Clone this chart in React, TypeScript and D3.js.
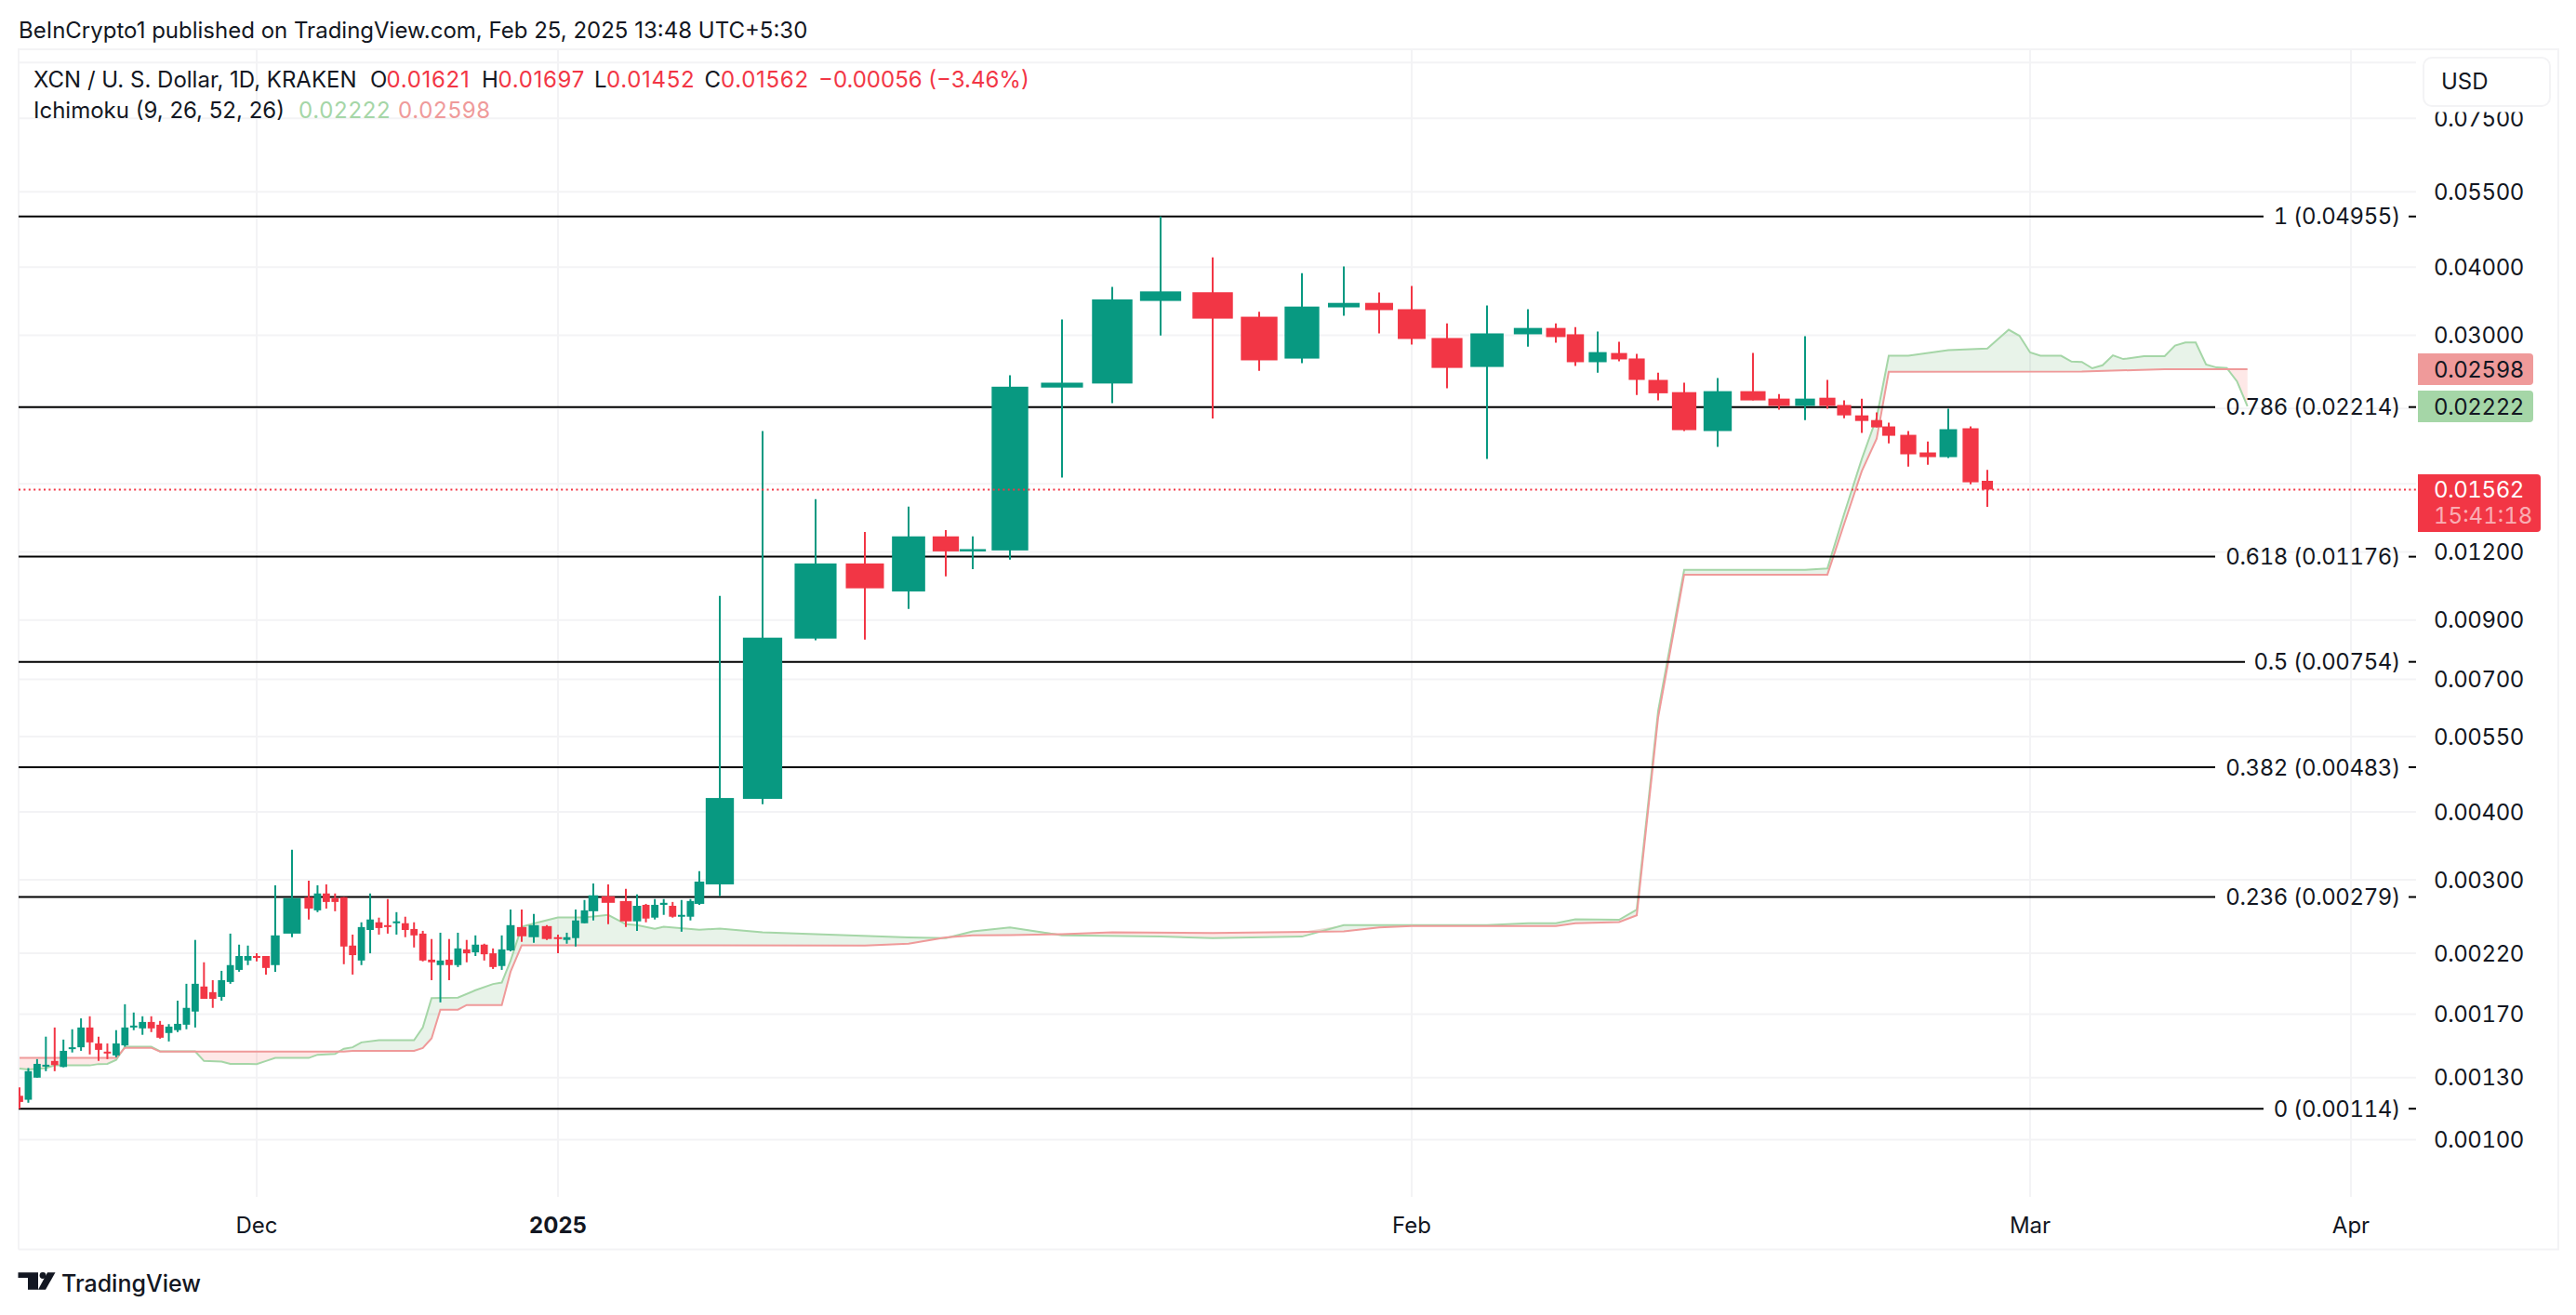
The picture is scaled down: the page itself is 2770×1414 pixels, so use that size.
import * as d3 from 'd3';

const WIDTH = 2770;
const HEIGHT = 1414;

// Daily XCN/USD candles, first bar is 2024-11-04
const FIRST_DAY = new Date(Date.UTC(2024, 10, 4));

const opens = [
  0.001204, 0.001184, 0.0013, 0.001362, 0.001395, 0.00136, 0.001467, 0.001478, 0.001607, 0.001502,
  0.001451, 0.001428, 0.00149, 0.001607, 0.001601, 0.001645, 0.001626, 0.00157, 0.001589, 0.001626,
  0.001719, 0.001911, 0.001866, 0.001829, 0.001948, 0.00205, 0.002133, 0.002174, 0.002174, 0.002092,
  0.00239, 0.002788, 0.002637, 0.002832, 0.002777, 0.002788, 0.002272, 0.002133, 0.002427, 0.002507,
  0.002477, 0.002497, 0.002497, 0.002437, 0.00239, 0.002141, 0.002092, 0.002141, 0.002092, 0.002236,
  0.002208, 0.002281, 0.002199, 0.002084, 0.002226, 0.002457, 0.002354, 0.002467, 0.002354, 0.002327,
  0.002345, 0.002497, 0.002627, 0.002799, 0.002743, 0.002517, 0.002699, 0.002557, 0.002699, 0.002688,
  0.002567, 0.002567, 0.00271, 0.002943, 0.004225, 0.008319, 0.01143, 0.010154, 0.012816, 0.012027,
  0.012076, 0.024042, 0.024456, 0.034673, 0.035971, 0.032435, 0.027175, 0.033741, 0.034387, 0.033482,
  0.029643, 0.02623, 0.030112, 0.030932, 0.030112, 0.026761, 0.027823, 0.027186, 0.024832, 0.02358,
  0.020003, 0.023677, 0.022943, 0.022245, 0.02303, 0.022332, 0.021373, 0.020953, 0.020398, 0.019687,
  0.018273, 0.017916, 0.02024, 0.01621,
];
const highs = [
  0.001248, 0.001354, 0.001406, 0.001546, 0.001607, 0.001527, 0.001595, 0.00167, 0.001685, 0.001546,
  0.001502, 0.001589, 0.001773, 0.001712, 0.001685, 0.001685, 0.001652, 0.00163, 0.0018, 0.001933,
  0.002327, 0.002117, 0.001963, 0.002042, 0.00239, 0.002281, 0.002272, 0.002199, 0.002174, 0.002932,
  0.003407, 0.00299, 0.002932, 0.002943, 0.002832, 0.002788, 0.00238, 0.002507, 0.002832, 0.002557,
  0.002766, 0.002617, 0.002567, 0.002507, 0.002418, 0.002336, 0.002399, 0.002336, 0.002399, 0.002327,
  0.002372, 0.00229, 0.002245, 0.002372, 0.002647, 0.002647, 0.002597, 0.002477, 0.00238, 0.002399,
  0.002647, 0.002755, 0.002954, 0.002943, 0.002888, 0.002821, 0.00271, 0.002766, 0.002766, 0.002732,
  0.002755, 0.002766, 0.003113, 0.009967, 0.019996, 0.014994, 0.013062, 0.01454, 0.013163, 0.012816,
  0.025333, 0.03206, 0.036785, 0.04955, 0.041703, 0.033107, 0.03898, 0.040129, 0.035943, 0.036942,
  0.031543, 0.033999, 0.033482, 0.031543, 0.031049, 0.030463, 0.029174, 0.027717, 0.025603, 0.024543,
  0.025025, 0.027823, 0.023388, 0.029877, 0.024832, 0.022768, 0.022943, 0.021634, 0.020716, 0.020003,
  0.019134, 0.021983, 0.020398, 0.01697,
];
const lows = [
  0.00114, 0.001169, 0.0013, 0.001336, 0.001336, 0.001358, 0.001446, 0.001456, 0.001434, 0.001395,
  0.001406, 0.001417, 0.001482, 0.001589, 0.001558, 0.001576, 0.001533, 0.001515, 0.001576, 0.001595,
  0.001607, 0.001814, 0.001746, 0.0018, 0.001933, 0.002034, 0.002092, 0.002125, 0.00201, 0.002034,
  0.002354, 0.002537, 0.002617, 0.002657, 0.002627, 0.0021, 0.00201, 0.002092, 0.002199, 0.00238,
  0.00239, 0.00238, 0.002354, 0.002254, 0.002125, 0.001963, 0.001787, 0.001963, 0.002075, 0.002117,
  0.002174, 0.002133, 0.002058, 0.00205, 0.002217, 0.002308, 0.002299, 0.002327, 0.002199, 0.00229,
  0.002263, 0.002497, 0.002527, 0.002487, 0.002457, 0.002418, 0.002507, 0.002537, 0.002587, 0.002557,
  0.002409, 0.002527, 0.002699, 0.0028, 0.00413, 0.008257, 0.008287, 0.009433, 0.010822, 0.011159,
  0.01162, 0.016439, 0.022506, 0.029971, 0.021094, 0.025805, 0.026665, 0.032577, 0.030229, 0.028823,
  0.023966, 0.017772, 0.028588, 0.029057, 0.026336, 0.025603, 0.026867, 0.023292, 0.022768, 0.020003,
  0.018704, 0.022768, 0.021896, 0.020953, 0.021983, 0.021111, 0.019845, 0.020319, 0.018991, 0.017212,
  0.017342, 0.017844, 0.015978, 0.01452,
];
const closes = [
  0.001173, 0.001336, 0.001378, 0.001373, 0.001371, 0.001456, 0.001478, 0.001607, 0.001509, 0.001462,
  0.00144, 0.001502, 0.001607, 0.00162, 0.001645, 0.001601, 0.001539, 0.001613, 0.001632, 0.001746,
  0.001933, 0.001814, 0.001814, 0.001963, 0.002092, 0.002174, 0.002174, 0.002158, 0.002067, 0.002372,
  0.002777, 0.002657, 0.002832, 0.002732, 0.002732, 0.002263, 0.002182, 0.002457, 0.002537, 0.002447,
  0.002457, 0.002517, 0.002427, 0.002372, 0.002133, 0.002117, 0.002133, 0.002092, 0.002245, 0.002199,
  0.002281, 0.00219, 0.002075, 0.002236, 0.002477, 0.002363, 0.002477, 0.002336, 0.002336, 0.002354,
  0.002527, 0.002637, 0.00281, 0.002722, 0.002517, 0.002688, 0.002547, 0.002699, 0.002722, 0.002567,
  0.002587, 0.002743, 0.002978, 0.00424, 0.008351, 0.01143, 0.010289, 0.012816, 0.012027, 0.012143,
  0.024129, 0.024543, 0.0349, 0.0361, 0.032176, 0.026973, 0.033857, 0.034387, 0.033353, 0.029526,
  0.026124, 0.030229, 0.030932, 0.02976, 0.026761, 0.027929, 0.02708, 0.024832, 0.023466, 0.020082,
  0.023677, 0.022768, 0.022245, 0.022943, 0.022245, 0.021373, 0.020874, 0.020319, 0.019608, 0.01813,
  0.017916, 0.020161, 0.016108, 0.01562,
];

// Ichimoku leading spans, only the days where the line bends
const spanADays = [
  0, 1, 3, 4, 8, 9, 10, 11, 12, 15, 16, 20, 21, 23, 24, 26, 27, 28, 29, 31, 32, 34, 35, 36, 37, 39, 43, 44, 45, 48,
  50, 52, 53, 54, 55, 56, 58, 61, 63, 64, 65, 67, 68, 72, 73, 74, 77, 78, 79, 80, 81, 83, 84, 86, 87, 91, 92, 93,
  94, 96, 97, 98, 99, 103, 104, 105, 106, 107, 108, 109, 111, 113, 115, 116, 117, 118, 120, 121, 122, 123, 124,
  125, 126, 128, 130, 131, 132, 133, 134, 135, 136, 137, 138,
];
const spanA = [
  0.001351, 0.001345, 0.001354, 0.001369, 0.001369, 0.001377, 0.001378, 0.001401, 0.001482, 0.001482, 0.001453,
  0.001453, 0.001395, 0.001391, 0.001378, 0.001378, 0.001377, 0.001395, 0.001413, 0.001413, 0.001432, 0.001437,
  0.001469, 0.001478, 0.001509, 0.001523, 0.001523, 0.001607, 0.00182, 0.001824, 0.001881, 0.001931, 0.001943,
  0.00213, 0.00246, 0.002494, 0.00256, 0.00256, 0.002587, 0.002487, 0.002477, 0.00244, 0.00246, 0.00243, 0.00244,
  0.002402, 0.002351, 0.002345, 0.002412, 0.002454, 0.002372, 0.00236, 0.002345, 0.00236, 0.002477, 0.002477,
  0.002497, 0.002497, 0.00254, 0.002534, 0.002644, 0.006123, 0.011119, 0.011119, 0.01119, 0.014086, 0.017772,
  0.02118, 0.027504, 0.027504, 0.02817, 0.028354, 0.030698, 0.029924, 0.027886, 0.0275, 0.0275, 0.026835, 0.026793,
  0.026081, 0.02641, 0.027547, 0.027122, 0.02745, 0.02745, 0.028717, 0.029081, 0.029081, 0.026506, 0.026177,
  0.026124, 0.024662, 0.02222,
];
const spanBDays = [
  0, 11, 12, 15, 16, 35, 36, 43, 44, 45, 46, 48, 49, 53, 54, 55, 76, 77, 78, 79, 80, 81, 82, 84, 87, 88, 89, 93, 94,
  96, 97, 98, 99, 104, 105, 106, 107, 108, 122, 130, 138,
];
const spanB = [
  0.001413, 0.001413, 0.001475, 0.001475, 0.001451, 0.001451, 0.001456, 0.001456, 0.001473, 0.001535, 0.001733,
  0.001733, 0.001767, 0.001767, 0.002034, 0.002275, 0.002272, 0.00229, 0.002351, 0.002372, 0.002375, 0.002384,
  0.002402, 0.002397, 0.002412, 0.002454, 0.002467, 0.002467, 0.002497, 0.00251, 0.002582, 0.00596, 0.0109, 0.0109,
  0.013499, 0.016887, 0.019371, 0.025699, 0.02573, 0.02598, 0.02598,
];

const fibLevels = ['1', '0.786', '0.618', '0.5', '0.382', '0.236', '0'];
const fibPrices = [0.04955, 0.02214, 0.01176, 0.00754, 0.00483, 0.00279, 0.00114];

const priceTicks = [0.075, 0.055, 0.04, 0.03, 0.012, 0.009, 0.007, 0.0055, 0.004, 0.003, 0.0022, 0.0017, 0.0013, 0.001];
// these grid lines have their axis label hidden behind a badge or the USD box
const hiddenTicks = [0.095, 0.022, 0.016];

const timeTickLabels = ['Dec', '2025', 'Feb', 'Mar', 'Apr'];
const timeTickDates = [
  Date.UTC(2024, 11, 1),
  Date.UTC(2025, 0, 1),
  Date.UTC(2025, 1, 1),
  Date.UTC(2025, 2, 1),
  Date.UTC(2025, 3, 1),
];

const ohlcLabels = ['O', 'H', 'L', 'C'];
const ohlcValues = ['0.01621', '0.01697', '0.01452', '0.01562'];

// The picture's time axis is not even, bars get much wider in January, so
// the x scale is piecewise and calibrated on the day positions in the picture.
const AXIS_DAYS = [
  0, 27, 28, 29, 29.5, 30, 30.5, 31, 54, 55, 56, 57, 58, 62, 63, 64, 65, 72, 72.5, 73, 74, 75, 76, 77, 78, 79, 80, 81,
  82, 83, 84, 85, 86, 87, 88, 89, 90, 91, 92, 93, 94, 95, 96, 97, 98, 99, 100, 101, 102, 103, 104, 105, 106, 107, 108,
  109, 110, 111, 112, 113, 117, 148,
];
const AXIS_STOPS = [
  21, 276, 286, 296, 302.5, 314, 325.5, 332, 549, 561, 574, 588, 600, 638, 654, 673, 685, 752, 760, 774, 820, 877, 930,
  977, 1017, 1046, 1086, 1142, 1196, 1248, 1304, 1354, 1400, 1445, 1483, 1518, 1556, 1599, 1643, 1673, 1694, 1718,
  1741, 1760, 1783, 1811, 1847, 1885, 1913, 1941, 1965, 1983, 2002, 2018, 2031, 2052, 2073, 2095, 2119, 2137, 2183,
  2528,
];

const PANE = { left: 20, right: 2598, top: 53, bottom: 1287 };
const FRAME_RIGHT = 2751;
const FRAME_BOTTOM = 1343.5;
const BODY_RATIO = 0.82;

const GREEN = '#089981';
const RED = '#F23645';
const CLOUD_GREEN = '#A5D6A7';
const CLOUD_RED = '#EF9A9A';
const GRID = '#F3F3F5';
const TEXT = '#131722';
const FONT = 'Inter, "Noto Sans", sans-serif';
const AXIS_NUMBERS = { fontVariantNumeric: 'tabular-nums', letterSpacing: -0.4 };

const x = d3.scaleLinear().domain(AXIS_DAYS).range(AXIS_STOPS);
const y = d3.scaleLog().domain([0.055, 0.001]).range([206.25, 1225.5]);

const candles = opens.map((open, i) => ({ i, open, high: highs[i], low: lows[i], close: closes[i] }));

const spanAAt = d3.scaleLinear().domain(spanADays).range(spanA);
const spanBAt = d3.scaleLinear().domain(spanBDays).range(spanB);
const cloudDays = Array.from(new Set([...spanADays, ...spanBDays])).sort((a, b) => a - b);

const spanLine = d3
  .line<[number, number]>()
  .x((d) => x(d[0]))
  .y((d) => y(d[1]));

// green where span A is on top, red where span B is on top
const cloudGreen = d3
  .area<number>()
  .x((d) => x(d))
  .y0((d) => y(spanBAt(d)))
  .y1((d) => y(Math.max(spanAAt(d), spanBAt(d))));
const cloudRed = d3
  .area<number>()
  .x((d) => x(d))
  .y0((d) => y(spanAAt(d)))
  .y1((d) => y(Math.max(spanAAt(d), spanBAt(d))));

// fib line stops short of its label
const fibLineEnd = (label: string) => {
  const len = label.length;
  if (len <= 11) return 2434;
  if (len === 13) return 2414;
  return 2382;
};

const dayOf = (t: number) => d3.utcDay.count(FIRST_DAY, new Date(t));

export default function App() {
  return (
    <div style={{ position: 'absolute', left: 0, top: 0 }}>
      <svg
        width={WIDTH}
        height={HEIGHT}
        viewBox={`0 0 ${WIDTH} ${HEIGHT}`}
        style={{ display: 'block', background: '#fff' }}
        fontFamily={FONT}
      >
        <defs>
          <clipPath id="pane">
            <rect x={PANE.left} y={PANE.top} width={PANE.right - PANE.left} height={PANE.bottom - PANE.top} />
          </clipPath>
        </defs>

        {/* Header */}
        <text x={20} y={33} dy="0.35em" fontSize={24} fill={TEXT}>
          BeInCrypto1 published on TradingView.com, Feb 25, 2025 13:48 UTC+5:30
        </text>

        {/* Frame */}
        <path
          d={`M${PANE.left},${FRAME_BOTTOM}V${PANE.top}H${FRAME_RIGHT}V${FRAME_BOTTOM}H${PANE.left}`}
          fill="none"
          stroke={GRID}
          strokeWidth={2}
        />

        {/* Grid */}
        {[...priceTicks, ...hiddenTicks].map((p) => (
          <line key={p} x1={PANE.left} x2={PANE.right} y1={y(p)} y2={y(p)} stroke={GRID} strokeWidth={2} />
        ))}
        {timeTickDates.map((t) => (
          <line key={t} x1={x(dayOf(t))} x2={x(dayOf(t))} y1={PANE.top} y2={PANE.bottom} stroke={GRID} strokeWidth={2} />
        ))}

        <g clipPath="url(#pane)">
          {/* Ichimoku cloud */}
          <path d={cloudGreen(cloudDays) ?? ''} fill="#43A047" fillOpacity={0.12} />
          <path d={cloudRed(cloudDays) ?? ''} fill="#F44336" fillOpacity={0.12} />
          <path
            d={spanLine(spanADays.map((d, i) => [d, spanA[i]] as [number, number])) ?? ''}
            fill="none"
            stroke={CLOUD_GREEN}
            strokeWidth={2}
          />
          <path
            d={spanLine(spanBDays.map((d, i) => [d, spanB[i]] as [number, number])) ?? ''}
            fill="none"
            stroke={CLOUD_RED}
            strokeWidth={2}
          />

          {/* Fib retracement */}
          {fibLevels.map((level, i) => {
            const label = `${level} (${fibPrices[i].toFixed(5)})`;
            return (
              <line
                key={level}
                x1={PANE.left}
                x2={fibLineEnd(label)}
                y1={y(fibPrices[i])}
                y2={y(fibPrices[i])}
                stroke="#000"
                strokeWidth={2}
              />
            );
          })}

          {/* Candles */}
          {candles.map((c) => {
            const color = c.close >= c.open ? GREEN : RED;
            const cx = x(c.i);
            const w = (x(c.i + 0.5) - x(c.i - 0.5)) * BODY_RATIO;
            const top = y(Math.max(c.open, c.close));
            const bottom = y(Math.min(c.open, c.close));
            return (
              <g key={c.i}>
                <line x1={cx} x2={cx} y1={y(c.high)} y2={y(c.low)} stroke={color} strokeWidth={2} />
                <rect x={cx - w / 2} y={top} width={w} height={Math.max(bottom - top, 2)} fill={color} />
              </g>
            );
          })}

          {/* Last price line */}
          <line
            x1={PANE.left}
            x2={PANE.right}
            y1={y(closes[closes.length - 1])}
            y2={y(closes[closes.length - 1])}
            stroke={RED}
            strokeWidth={2}
            strokeDasharray="2 3.4"
          />
        </g>

        {/* Fib labels */}
        {fibLevels.map((level, i) => (
          <g key={level}>
            <text
              x={2581}
              y={y(fibPrices[i])}
              dy="0.36em"
              textAnchor="end"
              fontSize={24}
              fill={TEXT}
              style={AXIS_NUMBERS}
            >
              {`${level} (${fibPrices[i].toFixed(5)})`}
            </text>
            <line x1={2590} x2={2598} y1={y(fibPrices[i])} y2={y(fibPrices[i])} stroke="#000" strokeWidth={2} />
          </g>
        ))}

        {/* Price axis */}
        <g style={AXIS_NUMBERS}>
          {priceTicks.map((p) => (
            <text key={p} x={2617} y={y(p)} dy="0.36em" fontSize={24} fill={TEXT}>
              {p.toFixed(5)}
            </text>
          ))}
        </g>

        {/* USD box sits on top of the first tick */}
        <rect x={2600} y={56} width={148} height={64.5} fill="#fff" />
        <rect x={2606} y={62} width={136} height={52} rx={9} fill="#fff" stroke={GRID} strokeWidth={2} />
        <text x={2625} y={87} dy="0.36em" fontSize={24} fill={TEXT}>
          USD
        </text>

        {/* Badges */}
        <g style={AXIS_NUMBERS} fontSize={24}>
          <path d="M2600,380H2720a4,4 0 0 1 4,4V410a4,4 0 0 1 -4,4H2600Z" fill={CLOUD_RED} />
          <text x={2617} y={y(0.02598)} dy="0.36em" fill={TEXT}>
            0.02598
          </text>
          <path d="M2600,420H2720a4,4 0 0 1 4,4V450a4,4 0 0 1 -4,4H2600Z" fill={CLOUD_GREEN} />
          <text x={2617} y={437} dy="0.36em" fill={TEXT}>
            0.02222
          </text>
          <path d="M2600,510H2728a4,4 0 0 1 4,4V568a4,4 0 0 1 -4,4H2600Z" fill={RED} />
          <text x={2617} y={y(0.01562)} dy="0.36em" fill="#fff">
            0.01562
          </text>
          <text x={2617} y={554.5} dy="0.36em" fill="#fff" fillOpacity={0.6} style={{ letterSpacing: 0 }}>
            15:41:18
          </text>
        </g>

        {/* Time axis */}
        {timeTickDates.map((t, i) => (
          <text
            key={t}
            x={x(dayOf(t))}
            y={1317.5}
            dy="0.36em"
            textAnchor="middle"
            fontSize={24}
            fontWeight={timeTickLabels[i] === '2025' ? 700 : 400}
            fill={TEXT}
          >
            {timeTickLabels[i]}
          </text>
        ))}

        {/* Legend */}
        <g fontSize={24}>
          <text x={36} y={85} dy="0.36em" fill={TEXT}>
            XCN / U. S. Dollar, 1D, KRAKEN
          </text>
          {ohlcLabels.map((label, i) => (
            <text key={label} x={[398, 518, 639, 757.5][i]} y={85} dy="0.36em" fill={TEXT}>
              {label}
              <tspan x={[415.5, 535.5, 652, 775][i]} fill={RED} style={{ letterSpacing: 0.7 }}>
                {ohlcValues[i]}
              </tspan>
            </text>
          ))}
          <text x={880} y={85} dy="0.36em" fill={RED}>
            −0.00056 (−3.46%)
          </text>
          <text x={36} y={118.5} dy="0.36em" fill={TEXT}>
            Ichimoku (9, 26, 52, 26)
          </text>
          <text x={321} y={118.5} dy="0.36em" fill={CLOUD_GREEN} style={{ letterSpacing: 0.7 }}>
            0.02222
          </text>
          <text x={428} y={118.5} dy="0.36em" fill={CLOUD_RED} style={{ letterSpacing: 0.7 }}>
            0.02598
          </text>
        </g>

        {/* TradingView logo */}
        <path d="M19.5,1368.3H41V1386.7H30V1374H19.5Z" fill={TEXT} />
        <circle cx={46} cy={1371.5} r={3.4} fill={TEXT} />
        <path d="M51,1368.3H59.5L49,1386.7H41Z" fill={TEXT} />
        <text x={66} y={1380} dy="0.36em" fontSize={25} fontWeight={500} fill={TEXT}>
          TradingView
        </text>
      </svg>
    </div>
  );
}
